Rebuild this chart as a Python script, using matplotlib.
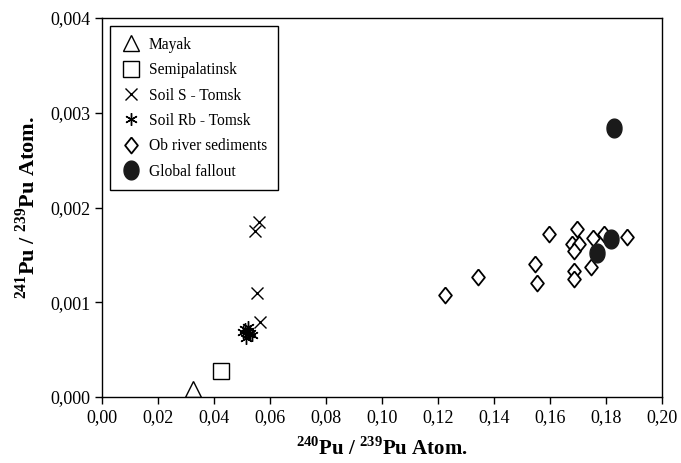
import numpy as np
import matplotlib
matplotlib.use("Agg")
import matplotlib.pyplot as plt
from matplotlib.ticker import FuncFormatter

plt.rcParams['font.family'] = ['Liberation Serif', 'DejaVu Serif']
plt.rcParams['mathtext.fontset'] = 'custom'
plt.rcParams['mathtext.rm'] = 'Liberation Serif'
plt.rcParams['mathtext.bf'] = 'Liberation Serif:bold'

# data
mayak_x = [0.0325]
mayak_y = [0.00008]

semi_x = [0.0425]
semi_y = [0.000274]

soil_s_x = [0.0545, 0.0560, 0.0554, 0.0564]
soil_s_y = [0.00175, 0.00185, 0.00110, 0.00079]

soil_rb_x = [0.0510, 0.0520, 0.0525, 0.0530, 0.0515, 0.0535, 0.0520, 0.0505]
soil_rb_y = [0.00072, 0.00070, 0.00066, 0.00068, 0.00062, 0.00065, 0.00074, 0.00069]

ob_x = [0.1225, 0.1343, 0.1546, 0.1554, 0.1596, 0.1696, 0.1679, 0.1704,
        0.1686, 0.1754, 0.1793, 0.1875, 0.1686, 0.1686, 0.1746]
ob_y = [0.001074, 0.001263, 0.00140, 0.00120, 0.001716, 0.00177, 0.00162, 0.00161,
        0.001537, 0.001674, 0.001716, 0.001684, 0.001326, 0.001242, 0.001368]

fallout_x = [0.1829, 0.1818, 0.1768]
fallout_y = [0.00284, 0.00167, 0.00152]

# tall ellipse marker for the fallout points, and a fat diamond
t = np.linspace(0, 2 * np.pi, 60)
ellipse = list(zip(0.8 * np.cos(t), np.sin(t)))
diamond = [(0, 1), (0.8, 0), (0, -1), (-0.8, 0), (0, 1)]

fig = plt.figure(figsize=(6.81, 4.63), dpi=100)
ax = fig.add_axes([0.1498, 0.1425, 0.8222, 0.8185])

ax.plot(mayak_x, mayak_y, ls='none', marker='^', ms=11, mfc='white', mec='black', mew=1.0,
        label='Mayak')
ax.plot(semi_x, semi_y, ls='none', marker='s', ms=11, mfc='white', mec='black', mew=1.0,
        label='Semipalatinsk')
ax.plot(soil_s_x, soil_s_y, ls='none', marker='x', ms=8, mec='black', mew=1.0,
        label='Soil S - Tomsk')
ax.plot(soil_rb_x, soil_rb_y, ls='none', marker=(6, 2, 0), ms=9, mec='black', mew=1.0,
        label='Soil Rb - Tomsk')
ax.plot(ob_x, ob_y, ls='none', marker=diamond, ms=11.5, mfc='white', mec='black', mew=1.3,
        label='Ob river sediments')
ax.plot(fallout_x, fallout_y, ls='none', marker=ellipse, ms=13.5, mfc='#1a1a1a', mec='#1a1a1a',
        label='Global fallout')

ax.set_xlim(0, 0.20)
ax.set_ylim(0, 0.004)
ax.set_xticks(np.arange(0, 0.2001, 0.02))
ax.set_yticks(np.arange(0, 0.00401, 0.001))
ax.xaxis.set_major_formatter(FuncFormatter(lambda v, p: f"{v:.2f}".replace('.', ',')))
ax.yaxis.set_major_formatter(FuncFormatter(lambda v, p: f"{v:.3f}".replace('.', ',')))
ax.tick_params(direction='out', length=5, width=1, labelsize=13, top=False, right=False)
for s in ax.spines.values():
    s.set_linewidth(1.0)

ax.set_xlabel(r'$^{\mathbf{240}}$Pu / $^{\mathbf{239}}$Pu Atom.', fontsize=15,
              fontweight='bold', labelpad=8)
ax.set_ylabel(r'$^{\mathbf{241}}$Pu / $^{\mathbf{239}}$Pu Atom.', fontsize=16,
              fontweight='bold', labelpad=7)

leg = ax.legend(loc='upper left', bbox_to_anchor=(0.014, 0.979), fontsize=11.2,
                frameon=True, fancybox=False, edgecolor='black', framealpha=1,
                borderpad=0.7, labelspacing=0.6, handletextpad=0.5, handlelength=1.3,
                borderaxespad=0)
leg.get_frame().set_linewidth(1.0)

fig.savefig('out.png', dpi=100)
